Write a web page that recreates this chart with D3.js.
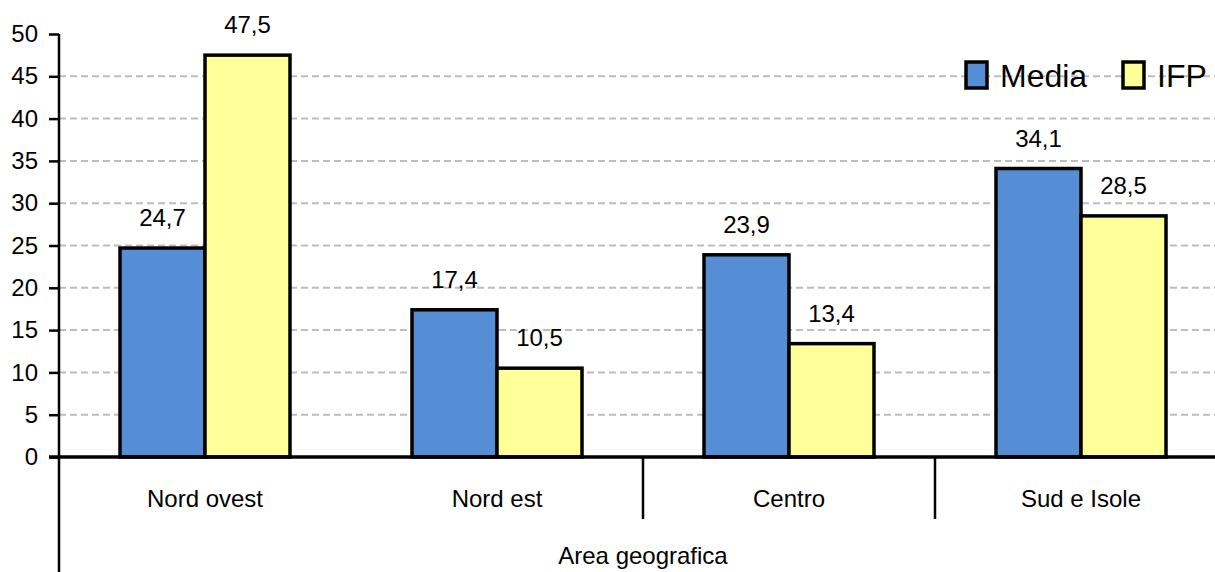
<!DOCTYPE html>
<html>
<head>
<meta charset="utf-8">
<script src="https://cdn.jsdelivr.net/npm/d3@7"></script>
<style>
  body { margin: 0; background: #fff; }
  text { font-family: "Liberation Sans", Arial, sans-serif; fill: #000; }
</style>
</head>
<body>
<svg id="chart" width="1215" height="572"></svg>
<script>
const categories = ["Nord ovest", "Nord est", "Centro", "Sud e Isole"];
const seriesNames = ["Media", "IFP"];
const media = [24.7, 17.4, 23.9, 34.1];
const ifp = [47.5, 10.5, 13.4, 28.5];
const yTicks = [0, 5, 10, 15, 20, 25, 30, 35, 40, 45, 50];
const axisTitle = "Area geografica";
const colors = ["#558ed5", "#ffff99"];

const svg = d3.select("#chart");
const left = 59, bandW = 292;
const y0 = 457, yTop = 34;

// x goes past the right edge, the picture is cut there
const x = d3.scaleBand()
    .domain(categories)
    .range([left, left + bandW * categories.length]);

const y = d3.scaleLinear().domain([0, 50]).range([y0, yTop]);

const fmt = v => String(v.toFixed(1)).replace(".", ",");

// grid lines
svg.append("g").selectAll("line")
    .data(yTicks.filter(t => t > 0 && t < 50))
    .join("line")
    .attr("x1", left).attr("x2", 1215)
    .attr("y1", d => y(d)).attr("y2", d => y(d))
    .attr("stroke", "#bdbdbd")
    .attr("stroke-width", 2)
    .attr("stroke-dasharray", "7,4");

// y axis
const yAxis = d3.axisLeft(y).tickValues(yTicks).tickSize(10).tickPadding(11);
const yG = svg.append("g").attr("transform", `translate(${left},0)`).call(yAxis);
yG.select(".domain").remove();
yG.selectAll(".tick line").attr("stroke", "#000").attr("stroke-width", 2.5);
yG.selectAll(".tick text").style("font-size", "24px").attr("fill", "#000");

svg.append("line")
    .attr("x1", left).attr("x2", left)
    .attr("y1", yTop).attr("y2", 572)
    .attr("stroke", "#000").attr("stroke-width", 2.5);

// bars
const inner = d3.scaleBand().domain(seriesNames).range([61, bandW - 61]);
const rows = categories.map((c, i) => ({ c, vals: [media[i], ifp[i]] }));

const groups = svg.append("g").selectAll("g")
    .data(rows)
    .join("g")
    .attr("transform", d => `translate(${x(d.c)},0)`);

groups.selectAll("rect")
    .data(d => d.vals.map((v, j) => ({ v, s: seriesNames[j], j })))
    .join("rect")
    .attr("x", d => inner(d.s))
    .attr("width", inner.bandwidth())
    .attr("y", d => y(d.v))
    .attr("height", d => y0 - y(d.v))
    .attr("fill", d => colors[d.j])
    .attr("stroke", "#000")
    .attr("stroke-width", 3.5);

groups.selectAll("text.val")
    .data(d => d.vals.map((v, j) => ({ v, s: seriesNames[j] })))
    .join("text")
    .attr("class", "val")
    .attr("x", d => inner(d.s) + inner.bandwidth() / 2)
    .attr("y", d => y(d.v) - 22)
    .attr("text-anchor", "middle")
    .style("font-size", "24px")
    .text(d => fmt(d.v));

// baseline
svg.append("line")
    .attr("x1", left - 10).attr("x2", 1215)
    .attr("y1", y0).attr("y2", y0)
    .attr("stroke", "#000").attr("stroke-width", 3.5);

// category separators below axis
svg.append("g").selectAll("line")
    .data(categories.slice(2))
    .join("line")
    .attr("x1", d => x(d)).attr("x2", d => x(d))
    .attr("y1", y0).attr("y2", 519)
    .attr("stroke", "#000").attr("stroke-width", 2.5);

svg.append("g").selectAll("text")
    .data(categories)
    .join("text")
    .attr("x", d => x(d) + bandW / 2)
    .attr("y", 507)
    .attr("text-anchor", "middle")
    .style("font-size", "24px")
    .text(d => d);

svg.append("text")
    .attr("x", left + bandW * 2)
    .attr("y", 564)
    .attr("text-anchor", "middle")
    .style("font-size", "24px")
    .text(axisTitle);

// legend
const legendX = [966, 1123];
seriesNames.forEach((s, i) => {
    svg.append("rect")
        .attr("x", legendX[i]).attr("y", 62)
        .attr("width", 21).attr("height", 26)
        .attr("fill", colors[i])
        .attr("stroke", "#000").attr("stroke-width", 3.5);
    svg.append("text")
        .attr("x", legendX[i] + 34).attr("y", 87)
        .style("font-size", "32px")
        .text(s);
});
</script>
</body>
</html>
